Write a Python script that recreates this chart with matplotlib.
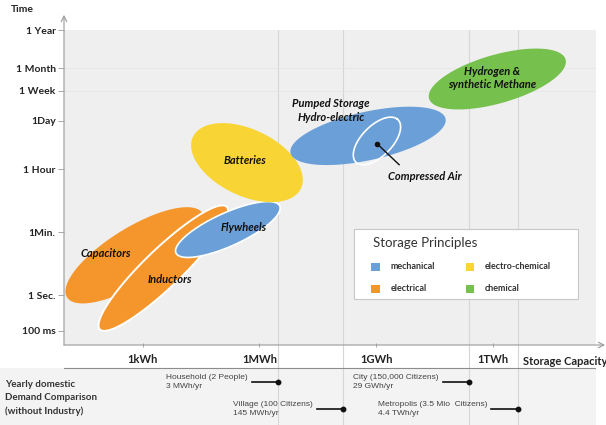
import matplotlib
matplotlib.use('Agg')
import matplotlib.pyplot as plt
from matplotlib.patches import Rectangle
import numpy as np

plt.rcParams['font.family'] = ['Lato', 'DejaVu Sans']

# --- data -------------------------------------------------------------
# time axis (seconds)
time_ticks = [0.1, 1, 60, 3600, 86400, 604800, 2.592e6, 3.1536e7]
time_labels = ['100 ms', '1 Sec.', '1Min.', '1 Hour', '1Day', '1 Week', '1 Month', '1 Year']

# capacity axis (kWh)
cap_ticks = [1, 1e3, 1e6, 1e9]
cap_labels = ['1kWh', '1MWh', '1GWh', '1TWh']

# storage technologies: centre capacity (kWh), centre duration (s),
# half-extent along / across the main direction (decades), tilt (deg)
tech_names = ['Capacitors', 'Inductors', 'Flywheels', 'Batteries',
              'Pumped Storage\nHydro-electric', 'Compressed Air',
              'Hydrogen &\nsynthetic Methane']
tech_cap = [0.63, 3.4, 155, 480, 6.2e5, 1.05e6, 1.3e9]
tech_time = [13.4, 5.8, 72, 5600, 3.2e4, 2.3e4, 1.3e6]
tech_major = [2.11, 2.38, 1.49, 1.57, 2.05, 0.81, 1.84]
tech_minor = [0.76, 0.51, 0.46, 0.92, 0.68, 0.41, 0.68]
tech_angle = [35, 47, 27, -30, 14, 50, 18]
tech_group = ['electrical', 'electrical', 'mechanical', 'electro-chemical',
              'mechanical', 'mechanical', 'chemical']

groups = ['mechanical', 'electrical', 'electro-chemical', 'chemical']
group_colors = ['#6b9fd8', '#f5962c', '#f8d535', '#76c04d']

# yearly domestic demand (kWh)
demand_names = ['Household (2 People)', 'Village (100 Citizens)',
                'City (150,000 Citizens)', 'Metropolis (3.5 Mio  Citizens)']
demand_text = ['3 MWh/yr', '145 MWh/yr', '29 GWh/yr', '4.4 TWh/yr']
demand_pos = [3.1e3, 1.45e5, 2.5e8, 4.4e9]
demand_row = [0, 1, 0, 1]


def ellipse_outline(cap, t, a, b, ang):
    s = np.linspace(0, 2 * np.pi, 240)
    ca, sa = np.cos(np.radians(ang)), np.sin(np.radians(ang))
    u, v = a * np.cos(s), b * np.sin(s)
    lx = np.log10(cap) + u * ca - v * sa
    ly = np.log10(t) + u * sa + v * ca
    return 10 ** lx, 10 ** ly


W, H = 606, 425
fig = plt.figure(figsize=(W / 100, H / 100), dpi=100)
fig.patch.set_facecolor('white')

# grey band behind the demand comparison
fig.add_artist(Rectangle((0, 0), 596 / W, 57 / H, transform=fig.transFigure,
                         facecolor='#f3f3f3', edgecolor='none', zorder=0))

# demand comparison panel (drawn first, below the main axes)
ax2 = fig.add_axes([64 / W, 0, 532 / W, 80 / H])
ax2.set_zorder(0)
ax2.set_xscale('log')
ax2.set_xlim(10 ** -2.02, 10 ** 11.65)
ax2.set_ylim(0, 1)
ax2.axis('off')
ax2.axhspan(0.7125, 1, color='white', zorder=0)
ax2.axhline(0.7125, color='#8c8c8c', lw=0.8, zorder=2)
for d in demand_pos:
    ax2.axvline(d, color='#d6d6d6', lw=0.8, zorder=1)

row_y = [0.54, 0.2]
for name, txt, pos, r in zip(demand_names, demand_text, demand_pos, demand_row):
    y = row_y[r]
    start = pos / 10 ** 0.69
    ax2.plot([start, pos], [y, y], color='#111111', lw=1.2, zorder=3)
    ax2.plot([pos], [y], 'o', color='#111111', ms=3.2, zorder=3)
    ax2.annotate(name + '\n' + txt, xy=(start, y), xytext=(-3, 0),
                 textcoords='offset points', ha='right', va='center',
                 multialignment='left', fontsize=6, color='#444444',
                 family=['Liberation Sans', 'DejaVu Sans'], linespacing=1.3)

fig.text(5 / W, 1 - 398 / H, 'Yearly domestic\nDemand Comparison\n(without Industry)',
         ha='left', va='center', fontsize=7, fontweight='bold', color='#333333',
         linespacing=1.55)

# main chart
ax = fig.add_axes([64 / W, 80 / H, 532 / W, 315 / H])
ax.set_zorder(1)
ax.set_facecolor('#efefef')
ax.set_xscale('log')
ax.set_yscale('log')
ax.set_xlim(10 ** -2.02, 10 ** 11.65)
ax.set_ylim(10 ** -1.41, 10 ** 7.5)
for sp in ax.spines.values():
    sp.set_visible(False)

for d in demand_pos:
    ax.axvline(d, color='#d6d6d6', lw=0.8, zorder=1)
for yv in [604800, 2.592e6]:
    ax.axhline(yv, color='#e6e6e6', lw=0.6, zorder=1)

ax.set_yticks(time_ticks)
ax.set_yticklabels(time_labels)
ax.set_xticks(cap_ticks)
ax.set_xticklabels(cap_labels)
ax.minorticks_off()
ax.tick_params(axis='y', direction='out', length=4, width=0.6, color='#9a9a9a',
               pad=2, labelsize=7.5, labelcolor='#222222')
ax.tick_params(axis='x', direction='inout', length=3, width=0.6, color='#9a9a9a',
               pad=5, labelsize=8, labelcolor='#222222')
for lab in ax.get_xticklabels() + ax.get_yticklabels():
    lab.set_fontweight('bold')

ax.annotate('', xy=(0, 1.048), xytext=(0, 0), xycoords='axes fraction',
            arrowprops=dict(arrowstyle='->', color='#9a9a9a', lw=0.8,
                            shrinkA=0, shrinkB=0), annotation_clip=False)
ax.annotate('', xy=(1.017, 0), xytext=(0, 0), xycoords='axes fraction',
            arrowprops=dict(arrowstyle='->', color='#9a9a9a', lw=0.8,
                            shrinkA=0, shrinkB=0), annotation_clip=False)

ax.annotate('Storage Capacity', xy=(10 ** 10.86, 10 ** -1.41), xytext=(0, -7.7),
            textcoords='offset points', ha='center', va='top', fontsize=8,
            fontweight='bold', color='#222222', annotation_clip=False)
fig.text(22 / W, 1 - 10 / H, 'Time', ha='center', va='center', fontsize=7.5,
         fontweight='bold', color='#222222')

# ellipses
col = dict(zip(groups, group_colors))
edge = {'Inductors': ('white', 1.4), 'Flywheels': ('white', 1.2)}
for i, name in enumerate(tech_names):
    xs, ys = ellipse_outline(tech_cap[i], tech_time[i], tech_major[i],
                             tech_minor[i], tech_angle[i])
    if name == 'Compressed Air':
        ax.plot(xs, ys, color='white', lw=1.2, zorder=3)
        continue
    ec, lw = edge.get(name, ('none', 0))
    ax.fill(xs, ys, facecolor=col[tech_group[i]], edgecolor=ec, lw=lw, zorder=2)

lab_kw = dict(ha='center', va='center', fontsize=8, fontweight='bold',
              fontstyle='italic', color='#111111', zorder=5)
ax.text(0.114, 15.3, 'Capacitors', **lab_kw)
ax.text(5.0, 2.8, 'Inductors', **lab_kw)
ax.text(400, 83, 'Flywheels', **lab_kw)
ax.text(430, 6400, 'Batteries', **lab_kw)
ax.text(6.9e4, 1.64e5, 'Pumped Storage\nHydro-electric', linespacing=1.3, **lab_kw)
ax.text(9.6e8, 1.4e6, 'Hydrogen &\nsynthetic Methane', linespacing=1.3, **lab_kw)
ax.plot([1.05e6, 3.9e6], [1.93e4, 4900], color='#111111', lw=1.0, zorder=4)
ax.plot([1.05e6], [1.93e4], 'o', color='#111111', ms=3, zorder=4)
ax.text(1.8e7, 2265, 'Compressed Air', **lab_kw)

# legend box
ax.add_patch(Rectangle((0.545, 0.146), 0.421, 0.222, transform=ax.transAxes,
                       facecolor='white', edgecolor='#c8c8c8', lw=0.8, zorder=6))
ax.text(0.581, 0.324, 'Storage Principles', transform=ax.transAxes, ha='left',
        va='center', fontsize=9.5, color='#333333', zorder=7)
leg_x = [0.586, 0.586, 0.763, 0.763]
leg_y = [0.248, 0.178, 0.248, 0.178]
for g, c, lx, ly in zip(groups, group_colors, leg_x, leg_y):
    ax.add_patch(Rectangle((lx - 0.008, ly - 0.0125), 0.016, 0.025,
                           transform=ax.transAxes, facecolor=c,
                           edgecolor='none', zorder=7))
    ax.text(lx + 0.028, ly, g, transform=ax.transAxes, ha='left', va='center',
            fontsize=6.5, fontweight='bold', color='#333333', zorder=7)

fig.savefig('out.png', dpi=100)
